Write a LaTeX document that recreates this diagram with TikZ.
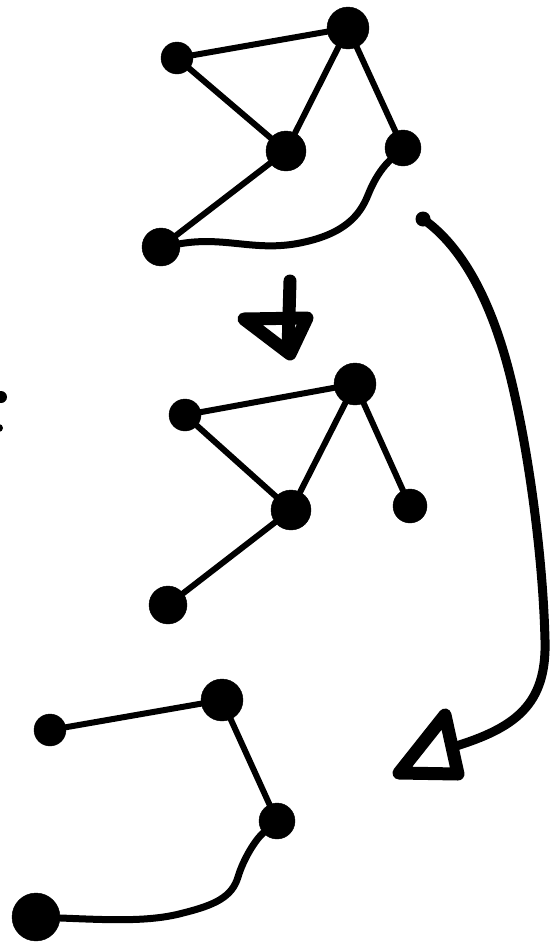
\documentclass[tikz,border=0pt]{standalone}
\begin{document}
\begin{tikzpicture}[x=1pt,y=-1pt,
  vtx/.style={circle,fill=black,draw=black,inner sep=0pt,minimum size=#1},
  edge/.style={line width=6pt,line cap=round},
  curveedge/.style={line width=7pt,line cap=round},
  bigline/.style={line width=9pt,line cap=round,line join=round},
  headline/.style={line width=13pt,line cap=round,line join=round}]
\useasboundingbox (0,0) rectangle (555,951);
% top graph
\node[vtx=32pt] (A) at (177,58) {};
\node[vtx=42pt] (B) at (348,28) {};
\node[vtx=40pt] (C) at (286,151) {};
\node[vtx=36pt] (D) at (403,148) {};
\node[vtx=38pt] (E) at (161,247) {};
\draw[edge] (A) -- (B);
\draw[edge] (A) -- (C);
\draw[edge] (B) -- (C);
\draw[edge] (B) -- (D);
\draw[edge] (C) -- (E);
\draw[curveedge] (E) .. controls (225,236) and (255,252) .. (300,243) .. controls (345,234) and (360,215) .. (368,195) .. controls (376,175) and (385,165) .. (D);
% down arrow
\coordinate (dtop) at (290,281);
\coordinate (dbot) at (288,350);
\coordinate (dl) at (244,319);
\coordinate (dr) at (307,318);
\coordinate (dtip) at (290,354);
\draw[headline] (dtop) -- (dbot);
\draw[headline] (dl) -- (dr) -- (dtip) -- cycle;
% middle graph
\node[vtx=32pt] (A2) at (185,415) {};
\node[vtx=42pt] (B2) at (355,384) {};
\node[vtx=40pt] (C2) at (291,510) {};
\node[vtx=34pt] (D2) at (410,506) {};
\node[vtx=38pt] (E2) at (168,605) {};
\draw[edge] (A2) -- (B2);
\draw[edge] (A2) -- (C2);
\draw[edge] (B2) -- (C2);
\draw[edge] (B2) -- (D2);
\draw[edge] (C2) -- (E2);
% bottom graph
\node[vtx=32pt] (F) at (50,730) {};
\node[vtx=42pt] (G) at (222,700) {};
\node[vtx=36pt] (H) at (277,821) {};
\node[vtx=48pt] (I) at (36,917) {};
\draw[edge] (F) -- (G);
\draw[edge] (G) -- (H);
\draw[curveedge] (H) .. controls (255,840) and (243,860) .. (238,877) .. controls (232,897) and (215,905) .. (183,913) .. controls (150,922) and (110,920) .. (I);
% right arrow
\coordinate (rs) at (423,219);
\coordinate (re) at (453,747);
\coordinate (t1) at (445,715);
\coordinate (t2) at (399,773);
\coordinate (t3) at (458,774);
\fill (rs) circle (7.5pt);
\draw[bigline] (rs) .. controls (470,252) and (498,320) .. (514,392) .. controls (530,462) and (543,560) .. (545,640) .. controls (547,705) and (515,728) .. (re);
\draw[headline] (t1) -- (t2) -- (t3) -- cycle;
% marks at left edge
\fill (1,397) circle (6pt);
\fill (-1,428) circle (4pt);
\end{tikzpicture}
\end{document}
